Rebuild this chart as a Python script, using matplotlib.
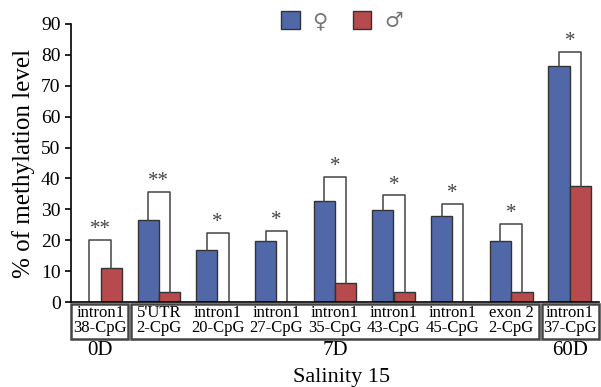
import numpy as np
import matplotlib.pyplot as plt
from matplotlib.patches import Patch, Rectangle

# values
labels = ['intron1\n38-CpG', "5'UTR\n2-CpG", 'intron1\n20-CpG', 'intron1\n27-CpG',
          'intron1\n35-CpG', 'intron1\n43-CpG', 'intron1\n45-CpG', 'exon 2\n2-CpG',
          'intron1\n37-CpG']
female = [0, 26.5, 16.8, 19.8, 32.8, 29.8, 27.8, 19.8, 76.5]
male = [11.0, 3.3, 0, 0, 6.2, 3.3, 0, 3.3, 37.5]
bracket = [20.2, 35.5, 22.3, 23.0, 40.5, 34.5, 31.7, 25.3, 81.0]
stars = ['**', '**', '*', '*', '*', '*', '*', '*', '*']
periods = ['0D', '7D', '60D']
period_span = [(0, 0), (1, 7), (8, 8)]

blue = '#5068a8'
red = '#b64a4c'
edge = '#333333'

plt.rcParams['font.family'] = ['Liberation Serif', 'DejaVu Sans']

fig = plt.figure(figsize=(6.01, 3.87), dpi=100)
ax = fig.add_axes([0.118, 0.2196, 0.879, 0.7184])

x = np.arange(len(labels))
w = 0.36
off = 0.185
ax.bar(x - off, female, w, color=blue, edgecolor=edge, linewidth=1)
ax.bar(x + off, male, w, color=red, edgecolor=edge, linewidth=1)

for i in range(len(labels)):
    xf, xm = x[i] - off, x[i] + off
    ax.plot([xf, xf, xm, xm], [female[i], bracket[i], bracket[i], male[i]],
            color='#444444', lw=1.1, zorder=1)
    ax.text(x[i], bracket[i] + 0.3, stars[i], ha='center', va='bottom',
            fontsize=15, color='#444444')

ax.set_xlim(-0.5, 8.5)
ax.set_ylim(0, 90)
ax.set_yticks(range(0, 91, 10))
ax.tick_params(axis='y', labelsize=14, direction='out', length=4, width=1.2)
ax.set_xticks([])
ax.spines['top'].set_visible(False)
ax.spines['right'].set_visible(False)
ax.spines['left'].set_linewidth(1.2)
ax.spines['bottom'].set_linewidth(1.2)
ax.set_ylabel('% of methylation level', fontsize=18, labelpad=4)

# boxes with category labels under the axis
for i, lab in enumerate(labels):
    ax.text(x[i], -5.9, lab, ha='center', va='center', fontsize=12,
            linespacing=0.92, clip_on=False)
for (a, b), p in zip(period_span, periods):
    left = a - 0.5 + (0.03 if a > 0 else 0.0)
    right = b + 0.5 - (0.03 if b < 8 else 0.0)
    ax.add_patch(Rectangle((left, -11.9), right - left, 11.4, fill=False,
                           edgecolor='#444444', lw=1.8, clip_on=False))
    ax.text((a + b) / 2, -15.8, p, ha='center', va='center', fontsize=15,
            clip_on=False)

fig.text(0.569, 0.0, 'Salinity 15', ha='center', va='bottom', fontsize=16)

handles = [Patch(facecolor=blue, edgecolor=edge), Patch(facecolor=red, edgecolor=edge)]
fig.legend(handles, ['\u2640', '\u2642'], loc='center', bbox_to_anchor=(0.569, 0.945),
           ncol=2, frameon=False, handlelength=0.9, handleheight=0.9,
           handletextpad=0.6, columnspacing=1.2, labelcolor='#777777',
           prop={'family': ['DejaVu Sans'], 'size': 15})

fig.savefig('out.png', dpi=100)
